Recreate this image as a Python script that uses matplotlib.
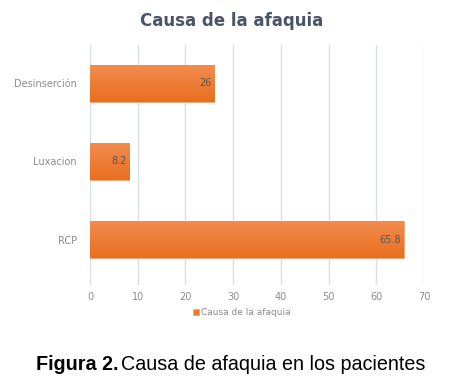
import matplotlib
matplotlib.use('Agg')
import matplotlib.pyplot as plt
import numpy as np
from matplotlib.colors import LinearSegmentedColormap

# Data
categories = ['RCP', 'Luxacion', 'Desinserción']
values = [65.8, 8.2, 26]
value_labels = ['65.8', '8.2', '26']
series_name = 'Causa de la afaquia'
xticks = [0, 10, 20, 30, 40, 50, 60, 70]

bar_color = '#EE7A30'
grid_color = '#D9DEE6'
text_gray = '#8C8C8C'

fig = plt.figure(figsize=(4.63, 3.88), dpi=100)
ax = fig.add_axes([0.1944, 0.2655, 0.7214, 0.6185])

y = np.arange(len(categories))
bars = ax.barh(y, values, height=0.47, color=bar_color, edgecolor='#F4A46F', linewidth=0.6,
               label=series_name, zorder=3)

# light vertical gradient on each bar
grad = LinearSegmentedColormap.from_list('g', ['#E86F1E', '#F18C50'])
for rect in bars:
    x0, y0 = rect.get_x(), rect.get_y()
    w, h = rect.get_width(), rect.get_height()
    im = ax.imshow(np.linspace(0, 1, 64).reshape(-1, 1), cmap=grad, aspect='auto',
                   extent=[x0, x0 + w, y0, y0 + h], origin='lower', zorder=3.5)
    im.set_clip_path(rect)

# Value labels inside the bar end
for rect, lab in zip(bars, value_labels):
    ax.text(rect.get_width() - 0.6, rect.get_y() + rect.get_height() / 2, lab,
            ha='right', va='center', fontsize=7, color='#555555', zorder=4)

ax.set_xlim(0, 70)
ax.set_ylim(-0.58, 2.49)
ax.set_xticks(xticks)
ax.set_yticks(y)
ax.set_yticklabels(categories)
ax.grid(axis='x', color=grid_color, linewidth=1.0, zorder=0)
for s in ax.spines.values():
    s.set_visible(False)
ax.tick_params(axis='both', length=0, labelsize=7, colors=text_gray)
ax.tick_params(axis='y', pad=9.5)
ax.tick_params(axis='x', pad=5)

fig.text(0.5, 0.945, 'Causa de la afaquia', ha='center', va='center', fontsize=12,
         fontweight='bold', color='#4A5468')

ax.legend(loc='center', bbox_to_anchor=(0.455, -0.115), frameon=False, fontsize=6.5,
          handlelength=0.6, handleheight=0.6, handletextpad=0.3, labelcolor=text_gray)

# Caption
cap_y = 1 - 365 / 388
t1 = fig.text(0.077, cap_y, 'Figura 2.', ha='left', va='center', fontsize=14.2,
              fontweight='bold', family='Liberation Sans', color='black')
fig.canvas.draw()
bb = t1.get_window_extent()
x2 = (bb.x1 + 3) / fig.bbox.width
fig.text(x2, cap_y, 'Causa de afaquia en los pacientes', ha='left', va='center',
         fontsize=14.2, family='Liberation Sans', color='black')

plt.savefig('out.png', dpi=100)
plt.close()
